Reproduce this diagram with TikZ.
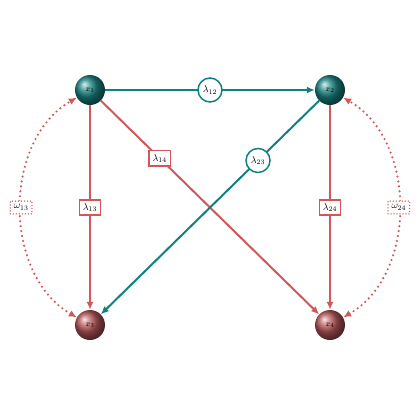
\documentclass[tikz,border=0pt]{standalone}
\usetikzlibrary{arrows.meta,shapes.geometric}
\definecolor{tealc}{RGB}{16,128,128}
\definecolor{redc}{RGB}{208,88,92}
\definecolor{tealball}{RGB}{25,130,130}
\definecolor{redball}{RGB}{180,85,85}
\tikzset{
  ballA/.style={circle,minimum size=30bp,inner sep=0pt,ball color=tealball,font=\footnotesize,text=black},
  ballB/.style={circle,minimum size=30bp,inner sep=0pt,ball color=redball,font=\footnotesize,text=black},
  tealedge/.style={draw=tealc,line width=2pt,-{Latex[length=8pt,width=7pt]}},
  rededge/.style={draw=redc,line width=2pt,-{Latex[length=8pt,width=7pt]}},
  corr/.style={draw=redc,line width=2.4pt,line cap=round,dash pattern=on 0pt off 5pt,{Latex[length=8pt,width=7pt]}-{Latex[length=8pt,width=7pt]}},
  clab/.style={circle,draw=tealc,line width=1.5pt,fill=white,inner sep=1.5pt,minimum size=24bp,font=\normalsize},
  rlab/.style={rectangle,draw=redc,line width=1.5pt,fill=white,inner sep=3.5pt,font=\normalsize},
  wlab/.style={rectangle,draw=redc,line width=1.5pt,line cap=round,dash pattern=on 0pt off 3pt,fill=white,inner sep=3.5pt,font=\normalsize},
}
\begin{document}
\begin{tikzpicture}[x=1bp,y=-1bp]
\useasboundingbox (0,0) rectangle (420,420);
\node[ballA] (x1) at (90,90) {$x_1$};
\node[ballA] (x2) at (330,90) {$x_2$};
\node[ballB] (x3) at (90,325) {$x_3$};
\node[ballB] (x4) at (330,325) {$x_4$};
\draw[tealedge] (x1) -- node[clab,pos=0.5] {$\lambda_{12}$} (x2);
\draw[rededge] (x1) -- node[rlab,pos=0.5] {$\lambda_{13}$} (x3);
\draw[rededge] (x1) -- node[rlab,pos=0.27] {$\lambda_{14}$} (x4);
\draw[tealedge] (x2) -- node[clab,pos=0.28] {$\lambda_{23}$} (x3);
\draw[rededge] (x2) -- node[rlab,pos=0.5] {$\lambda_{24}$} (x4);
\draw[corr] (x3) to[out=150,in=210,looseness=1] node[wlab,pos=0.5] {$\omega_{13}$} (x1);
\draw[corr] (x4) to[out=30,in=-30,looseness=1] node[wlab,pos=0.5] {$\omega_{24}$} (x2);
\end{tikzpicture}
\end{document}
